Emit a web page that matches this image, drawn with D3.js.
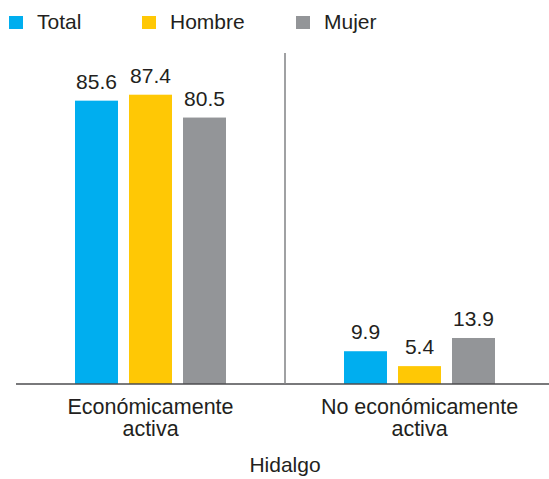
<!DOCTYPE html>
<html>
<head>
<meta charset="utf-8">
<script src="https://cdn.jsdelivr.net/npm/d3@7"></script>
<style>
  body { margin: 0; background: #fff; }
  text { font-family: "Liberation Sans", Arial, sans-serif; fill: #231f20; }
</style>
</head>
<body>
<script>
// Data
const categories = ['Económicamente activa', 'No económicamente activa'];
const categoryLines = [['Económicamente', 'activa'], ['No económicamente', 'activa']];
const series = ['Total', 'Hombre', 'Mujer'];
const total = [85.6, 9.9];
const hombre = [87.4, 5.4];
const mujer = [80.5, 13.9];
const groupTitle = 'Hidalgo';

const colors = ['#00aeef', '#ffc805', '#939598'];
const values = [total, hombre, mujer];

const width = 549;
const height = 479;
const baseY = 384;

const svg = d3.select('body')
  .append('svg')
  .attr('width', width)
  .attr('height', height);

// Scales
const x0 = d3.scaleBand()
  .domain(categories)
  .range([16, 554]);

const x1 = d3.scaleBand()
  .domain(series)
  .range([0, 151])
  .paddingInner(0.204);

const y = d3.scaleLinear()
  .domain([0, 100])
  .range([baseY, baseY - 331]);

// Rows of data for the bars
const rows = [];
categories.forEach((c, i) => {
  series.forEach((s, j) => {
    rows.push({ cat: c, ser: s, value: values[j][i], color: colors[j] });
  });
});

const groupOffset = (x0.bandwidth() - 151) / 2;

// Bars
svg.append('g')
  .selectAll('rect')
  .data(rows)
  .enter()
  .append('rect')
  .attr('x', d => x0(d.cat) + groupOffset + x1(d.ser))
  .attr('y', d => y(d.value))
  .attr('width', x1.bandwidth())
  .attr('height', d => y(0) - y(d.value))
  .style('fill', d => d.color);

// Value labels
svg.append('g')
  .selectAll('text')
  .data(rows)
  .enter()
  .append('text')
  .attr('x', d => x0(d.cat) + groupOffset + x1(d.ser) + x1.bandwidth() / 2)
  .attr('y', d => y(d.value) - 12)
  .attr('text-anchor', 'middle')
  .style('font-size', '21px')
  .text(d => d.value.toFixed(1));

// Baseline
svg.append('line')
  .attr('x1', 16)
  .attr('x2', width)
  .attr('y1', baseY)
  .attr('y2', baseY)
  .style('stroke', '#4d4d4f')
  .style('stroke-width', 1.5);

// Divider between groups
svg.append('line')
  .attr('x1', x0(categories[1]))
  .attr('x2', x0(categories[1]))
  .attr('y1', y(100))
  .attr('y2', baseY)
  .style('stroke', '#808285')
  .style('stroke-width', 1.5);

// Category labels
const catLabels = svg.append('g')
  .selectAll('text')
  .data(categories)
  .enter()
  .append('text')
  .attr('text-anchor', 'middle')
  .attr('transform', d => `translate(${x0(d) + x0.bandwidth() / 2}, 414)`)
  .style('font-size', '21.5px');

catLabels.selectAll('tspan')
  .data((d, i) => categoryLines[i])
  .enter()
  .append('tspan')
  .attr('x', 0)
  .attr('y', (d, i) => i * 22)
  .text(d => d);

// Group title
svg.append('text')
  .attr('x', x0(categories[1]))
  .attr('y', 472)
  .attr('text-anchor', 'middle')
  .style('font-size', '21px')
  .text(groupTitle);

// Legend
const legendX = [9, 142, 296];
const legend = svg.append('g')
  .selectAll('g')
  .data(series)
  .enter()
  .append('g')
  .attr('transform', (d, i) => `translate(${legendX[i]}, 0)`);

legend.append('rect')
  .attr('y', 16)
  .attr('width', 14)
  .attr('height', 13)
  .style('fill', (d, i) => colors[i]);

legend.append('text')
  .attr('x', 28)
  .attr('y', 29)
  .style('font-size', '21px')
  .text(d => d);
</script>
</body>
</html>
